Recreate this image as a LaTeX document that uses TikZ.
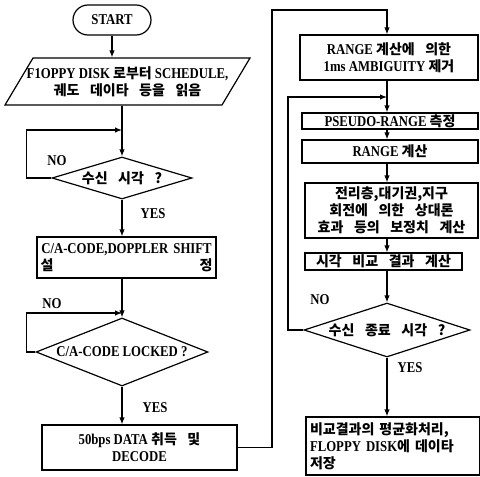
\documentclass[tikz,border=0pt]{standalone}
\usepackage{fontspec}
\setmainfont{Liberation Serif}[FakeStretch=0.85]
\newfontfamily\krf{Noto Sans CJK KR}[WordSpace=3.3]
\newcommand\hk[1]{{\krf\fontsize{14}{17}\selectfont #1}}
\usetikzlibrary{arrows.meta,shapes.geometric,shapes.misc}
\begin{document}
\begin{tikzpicture}[x=1pt,y=-1pt,line width=1.2pt,
  font=\fontsize{15}{17}\selectfont\bfseries,
  >={Latex[length=7pt,width=5.5pt]},
  box/.style={draw,rectangle,inner sep=0pt,align=center},
  dec/.style={draw,diamond,inner sep=0pt,align=center},
  lbl/.style={inner sep=0pt}]
\useasboundingbox (0,0) rectangle (480,477);
% left column
\node[draw,rounded rectangle,minimum width=78pt,minimum height=30pt,inner sep=0pt] (start) at (112,20) {START};
\node[inner sep=0pt,minimum height=47pt,align=center] (para) at (127.5,81.5)
  {F1OPPY DISK \hk{로부터} SCHEDULE,\\\hk{궤도 데이타 등을 읽음}};
\draw (5,105) -- (33,58) -- (250,58) -- (222,105) -- cycle;
\coordinate (j1) at (122,130);
\node[dec,minimum width=140pt,minimum height=42pt,aspect=3.33] (d1) at (122,178) {\hk{수신 시각 ?}};
\node[lbl] (n1) at (57,161) {NO};
\node[lbl] (y1) at (153,214) {YES};
\node[box,minimum width=179pt,minimum height=41pt,text width=172pt] (ca) at (126.5,257.5)
  {C/A-CODE,DOPPLER SHIFT\\\hk{설}\hfill\hk{정}};
\coordinate (j2) at (122,313);
\node[lbl] (n2) at (52,304) {NO};
\node[dec,minimum width=172pt,minimum height=68pt,aspect=2.53] (d2) at (122,352) {C/A-CODE LOCKED ?};
\node[lbl] (y2) at (155,408) {YES};
\node[box,minimum width=195pt,minimum height=45pt] (b50) at (139.5,447.5)
  {50bps DATA \hk{취득 및}\\DECODE};
% right column
\coordinate (mx) at (387,0);
\coordinate (top) at (272,10);
\node[box,minimum width=178pt,minimum height=45pt] (rng) at (389,57.5)
  {RANGE \hk{계산에 의한}\\1ms AMBIGUITY \hk{제거}};
\coordinate (j3) at (387,97);
\node[box,minimum width=176pt,minimum height=16pt] (ps) at (390,121) {PSEUDO-RANGE \hk{측정}};
\node[box,minimum width=176pt,minimum height=23pt] (rc) at (390,151.5) {RANGE \hk{계산}};
\node[box,minimum width=173pt,minimum height=55pt] (cor) at (391.5,210.5)
  {\hk{전리층,대기권,지구}\\\hk{회전에 의한 상대론}\\\hk{효과 등의 보정치 계산}};
\node[box,minimum width=157pt,minimum height=17pt] (tc) at (383.5,261.5) {\hk{시각 비교 결과 계산}};
\node[lbl] (n3) at (320,300) {NO};
\node[dec,minimum width=166pt,minimum height=54pt,aspect=3.07] (d3) at (387,330) {\hk{수신 종료 시각 ?}};
\node[lbl] (y3) at (410,368) {YES};
\node[box,minimum width=174pt,minimum height=58pt,text width=166pt,align=left] (fin) at (393,446)
  {\hk{비교결과의 평균화처리,}\\FLOPPY DISK\hk{에 데이타}\\\hk{저장}};
% connectors left
\draw[->] (start.south) -- (start.south |- para.north);
\draw[->] (para.south -| j1) -- (d1.north);
\draw[->] (d1.west) -- ++(-25,0) |- (j1);
\draw[->] (d1.south) -- (d1.south |- ca.north);
\draw[->] (ca.south -| j2) -- (d2.north);
\draw[->] (d2.west) -- ++(-9,0) |- (j2);
\draw[->] (d2.south) -- (d2.south |- b50.north);
% outer connector
\draw[->] (b50.east) -| (top) -| (rng.north -| mx);
% right column connectors
\draw[->] (rng.south -| mx) -- (ps.north -| mx);
\draw[->] (d3.west) -- (288,330) |- (j3);
\draw[->] (ps.south -| mx) -- (rc.north -| mx);
\draw[->] (rc.south -| mx) -- (cor.north -| mx);
\draw[->] (cor.south -| mx) -- (tc.north -| mx);
\draw[->] (tc.south -| mx) -- (d3.north);
\draw[->] (d3.south) -- (d3.south |- fin.north);
\end{tikzpicture}
\end{document}
